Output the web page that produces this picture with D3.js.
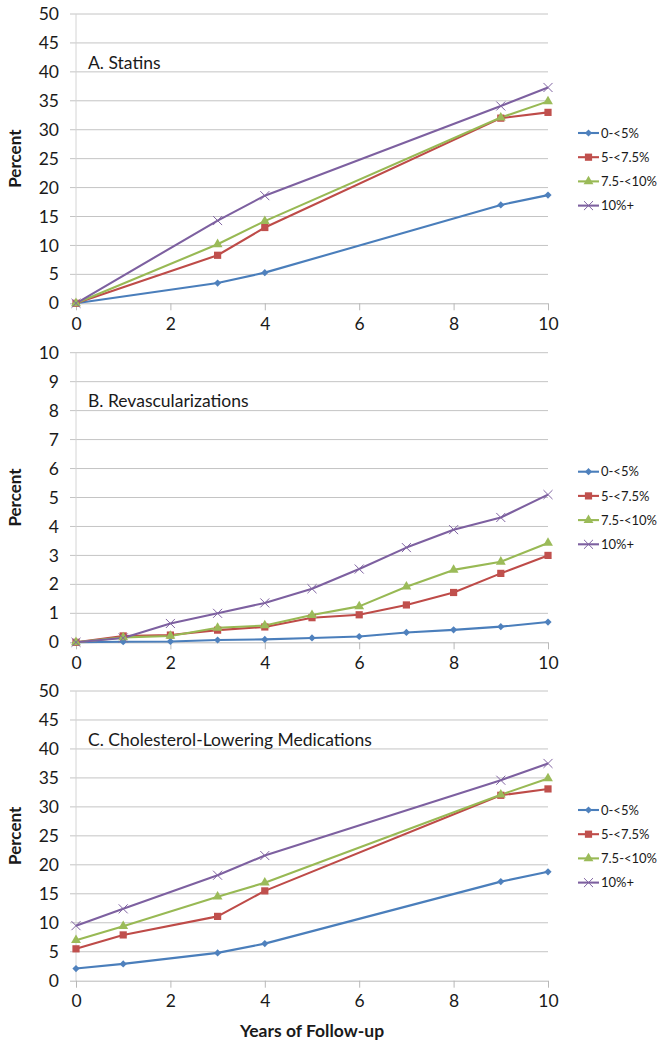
<!DOCTYPE html>
<html>
<head>
<meta charset="utf-8">
<script src="https://cdn.jsdelivr.net/npm/d3@7"></script>
<style>
  html, body { margin: 0; padding: 0; background: #fff; }
  svg { display: block; }
  text { font-family: Lato, "Open Sans", sans-serif; fill: #1a1a1a; }
</style>
</head>
<body>
<svg id="chart" width="667" height="1050"></svg>
<script>
// ---------- Data ----------
const seriesNames = ["0-<5%", "5-<7.5%", "7.5-<10%", "10%+"];

const yearsA = [0, 3, 4, 9, 10];
const statins0to5 = [0, 3.5, 5.3, 17.0, 18.7];
const statins5to75 = [0, 8.3, 13.1, 32.0, 33.0];
const statins75to10 = [0, 10.2, 14.2, 32.1, 34.9];
const statins10plus = [0, 14.3, 18.6, 34.1, 37.3];

const yearsB = [0, 1, 2, 3, 4, 5, 6, 7, 8, 9, 10];
const revasc0to5 = [0, 0.02, 0.03, 0.08, 0.1, 0.15, 0.2, 0.34, 0.43, 0.54, 0.7];
const revasc5to75 = [0, 0.22, 0.25, 0.42, 0.53, 0.85, 0.95, 1.29, 1.72, 2.38, 3.0];
const revasc75to10 = [0, 0.17, 0.22, 0.5, 0.58, 0.94, 1.24, 1.92, 2.5, 2.78, 3.43];
const revasc10plus = [0, 0.15, 0.65, 1.0, 1.36, 1.85, 2.53, 3.27, 3.89, 4.31, 5.1];

const yearsC = [0, 1, 3, 4, 9, 10];
const chol0to5 = [2.1, 2.9, 4.8, 6.4, 17.1, 18.8];
const chol5to75 = [5.5, 7.9, 11.1, 15.5, 32.0, 33.1];
const chol75to10 = [7.0, 9.4, 14.5, 16.9, 32.1, 34.9];
const chol10plus = [9.5, 12.4, 18.2, 21.6, 34.6, 37.5];

const xTicks = [0, 2, 4, 6, 8, 10];
const yTicksA = [0, 5, 10, 15, 20, 25, 30, 35, 40, 45, 50];
const yTicksB = [0, 1, 2, 3, 4, 5, 6, 7, 8, 9, 10];
const yTicksC = [0, 5, 10, 15, 20, 25, 30, 35, 40, 45, 50];

const panelTitles = ["A. Statins", "B. Revascularizations", "C. Cholesterol-Lowering Medications"];
const yLabel = "Percent";
const xLabel = "Years of Follow-up";

// ---------- Styling ----------
const lineColors = ["#4A7EBB", "#BE4B48", "#98B954", "#7D60A0"];
const markerColors = ["#4F81BD", "#C0504D", "#9BBB59", "#8064A2"];
const FONT = "Lato, 'Open Sans', sans-serif";
const tickFont = 17.5;

const svg = d3.select("#chart");

const panels = [
  { title: panelTitles[0], years: yearsA, series: [statins0to5, statins5to75, statins75to10, statins10plus], yMax: 50, yTicks: yTicksA, top: 14, bottom: 303.3 },
  { title: panelTitles[1], years: yearsB, series: [revasc0to5, revasc5to75, revasc75to10, revasc10plus], yMax: 10, yTicks: yTicksB, top: 352.7, bottom: 642.3 },
  { title: panelTitles[2], years: yearsC, series: [chol0to5, chol5to75, chol75to10, chol10plus], yMax: 50, yTicks: yTicksC, top: 691, bottom: 980.7 }
];

const x0 = 76, x1 = 548;

function markerPath(i) {
  if (i === 0) return d3.symbol().type(d3.symbolSquare).size(26)();
  if (i === 1) return d3.symbol().type(d3.symbolSquare).size(52)();
  if (i === 2) return d3.symbol().type(d3.symbolTriangle).size(42)();
  return d3.symbol().type(d3.symbolX).size(55)();
}

function drawMarker(g, i, cx, cy) {
  const p = g.append("path")
    .attr("d", markerPath(i))
    .attr("transform", `translate(${cx},${cy})` + (i === 0 ? " rotate(45)" : ""));
  if (i === 3) {
    p.attr("fill", "none").attr("stroke", markerColors[i]).attr("stroke-width", 1);
  } else {
    p.attr("fill", markerColors[i]).attr("stroke", "none");
  }
}

panels.forEach((pn) => {
  const g = svg.append("g");
  const x = d3.scaleLinear().domain([0, 10]).range([x0, x1]);
  const y = d3.scaleLinear().domain([0, pn.yMax]).range([pn.bottom, pn.top]);

  // gridlines with outside tick
  g.append("g").selectAll("line").data(pn.yTicks.filter(t => t > 0)).join("line")
    .attr("x1", x0 - 6).attr("x2", x1)
    .attr("y1", d => y(d)).attr("y2", d => y(d))
    .attr("stroke", "#C4C4C4").attr("stroke-width", 1);

  // y axis line
  g.append("line").attr("x1", x0).attr("x2", x0)
    .attr("y1", pn.top).attr("y2", pn.bottom)
    .attr("stroke", "#D4D4D4").attr("stroke-width", 1);

  // x axis with ticks
  const xAxis = d3.axisBottom(x).tickValues(xTicks).tickSize(7).tickPadding(7).tickFormat(d3.format("d"));
  const xg = g.append("g").attr("transform", `translate(0,${pn.bottom})`).call(xAxis);
  xg.select(".domain").attr("stroke", "#B8B8B8").attr("d", `M${x0 - 6},0.5H${x1}`);
  xg.selectAll(".tick line").attr("stroke", "#B8B8B8");
  xg.selectAll(".tick text").attr("font-size", tickFont).attr("font-family", FONT).attr("fill", "#1a1a1a");

  // y tick labels
  const yAxis = d3.axisLeft(y).tickValues(pn.yTicks).tickSize(0).tickPadding(17).tickFormat(d3.format("d"));
  const yg = g.append("g").attr("transform", `translate(${x0},0)`).call(yAxis);
  yg.select(".domain").remove();
  yg.selectAll(".tick text").attr("font-size", tickFont).attr("font-family", FONT).attr("fill", "#1a1a1a");

  // title
  g.append("text").attr("x", 88).attr("y", pn.top + 54.5)
    .attr("font-size", 17.5).text(pn.title);

  // y label
  g.append("text")
    .attr("transform", `translate(21,${(pn.top + pn.bottom) / 2}) rotate(-90)`)
    .attr("text-anchor", "middle").attr("font-size", 17).attr("font-weight", "bold")
    .text(yLabel);

  // lines
  const line = d3.line().x((d, i) => x(pn.years[i])).y(d => y(d));
  pn.series.forEach((s, si) => {
    g.append("path").datum(s).attr("d", line)
      .attr("fill", "none").attr("stroke", lineColors[si]).attr("stroke-width", 2.1)
      .attr("stroke-linejoin", "round");
  });
  pn.series.forEach((s, si) => {
    const mg = g.append("g");
    s.forEach((v, k) => drawMarker(mg, si, x(pn.years[k]), y(v)));
  });

  // legend
  const lg = g.append("g");
  seriesNames.forEach((nm, si) => {
    const ly = pn.top + 119 + si * 24.2;
    lg.append("line").attr("x1", 578).attr("x2", 599).attr("y1", ly).attr("y2", ly)
      .attr("stroke", lineColors[si]).attr("stroke-width", 2.1);
    drawMarker(lg, si, 588.5, ly);
    lg.append("text").attr("x", 601).attr("y", ly).attr("dy", "0.36em")
      .attr("font-size", 13).text(nm);
  });
});

// x label
svg.append("text").attr("x", 312).attr("y", 1037)
  .attr("text-anchor", "middle").attr("font-size", 17.5).attr("font-weight", "bold")
  .text(xLabel);
</script>
</body>
</html>
